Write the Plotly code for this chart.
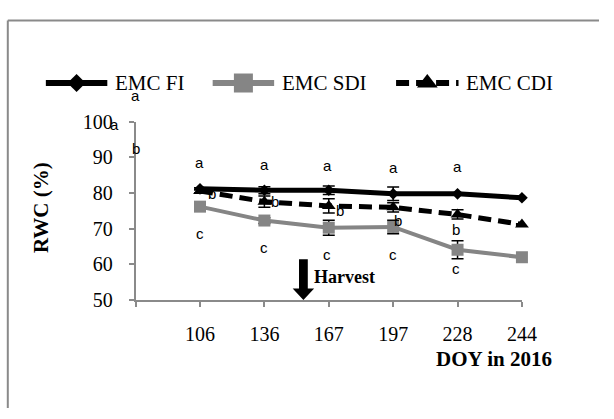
import plotly.graph_objects as go

# Sampling dates (day of year, 2016)
doy_labels = ["106", "136", "167", "197", "228", "244"]

# Relative water content (%) per treatment
rwc_fi = [81.2, 80.8, 80.8, 79.8, 79.8, 78.7]
rwc_sdi = [76.2, 72.3, 70.3, 70.5, 64.1, 62.0]
rwc_cdi = [80.6, 77.6, 76.4, 76.0, 74.0, 71.2]

# Standard errors
err_fi = [0.3, 1.0, 1.2, 1.9, 0.3, 0.2]
err_sdi = [0.3, 0.8, 2.1, 1.9, 2.5, 0.2]
err_cdi = [0.5, 1.6, 2.0, 1.3, 1.3, 0.2]

# Significance letters: (letter, category position, RWC level)
sig_letters = [
    ("a", 0.0, 106.6), ("a", -0.33, 98.4), ("b", 0.0, 91.6),
    ("a", 1.0, 87.8), ("b", 1.18, 79.0), ("c", 1.0, 67.8),
    ("a", 2.0, 87.2), ("b", 2.17, 76.9), ("c", 2.0, 63.8),
    ("a", 2.98, 87.0), ("b", 3.17, 74.2), ("c", 2.98, 62.0),
    ("a", 4.0, 86.4), ("b", 4.08, 71.5), ("c", 4.0, 62.0),
    ("a", 5.0, 86.7), ("b", 4.98, 68.9), ("c", 4.98, 58.0),
]

W, H = 614, 419
GRAY = "#858585"
AXIS = "#8a8a8a"
SERIF = "Liberation Serif, Times New Roman, serif"
SANS = "Liberation Sans, Arial, sans-serif"

# Plot-area placement in page pixels
x_l, x_r = 139, 535
y_t, y_b = 117, 305
X_MIN, X_MAX = 0, len(doy_labels)
Y_MIN, Y_MAX = 50, 100


def to_px(cx, cy):
    """Map (category position, RWC) to page pixels for the overlay axis."""
    px = x_l + (cx - X_MIN) / (X_MAX - X_MIN) * (x_r - x_l)
    py = y_b - (cy - Y_MIN) / (Y_MAX - Y_MIN) * (y_b - y_t)
    return px, py


xpos = list(range(1, len(doy_labels) + 1))

fig = go.Figure()

series = [
    ("EMC FI", rwc_fi, err_fi, "black", "solid", 5, "diamond", 9),
    ("EMC SDI", rwc_sdi, err_sdi, GRAY, "solid", 4, "square", 12),
    ("EMC CDI", rwc_cdi, err_cdi, "black", "13px,7px", 5, "triangle-up", 12),
]

for name, vals, errs, col, dash, lw, sym, ms in series:
    fig.add_trace(go.Scatter(
        x=xpos, y=vals, name=name, mode="lines+markers",
        line=dict(color=col, width=lw, dash=dash),
        marker=dict(symbol=sym, size=ms, color=col),
        error_y=dict(type="data", array=errs, visible=True,
                     color="black", thickness=1.5, width=6),
        showlegend=False, cliponaxis=False,
    ))

# Legend drawn on a full-page pixel-space axis pair
legend_items = [
    # name, line start, line end, colour, dash, width, symbol, size
    ("EMC FI", 47, 110, "black", "solid", 6, "diamond", 14),
    ("EMC SDI", 218, 281, GRAY, "solid", 6, "square", 19),
    ("EMC CDI", 406, 470, "black", "13px,7px", 6, "triangle-up", 18),
]
LEG_Y = 76
for name, x0, x1, col, dash, lw, sym, ms in legend_items:
    fig.add_trace(go.Scatter(
        x=[x0, x1], y=[LEG_Y, LEG_Y], mode="lines",
        line=dict(color=col, width=lw, dash=dash),
        xaxis="x2", yaxis="y2", showlegend=False, hoverinfo="skip",
    ))
    fig.add_trace(go.Scatter(
        x=[(x0 + x1) / 2], y=[LEG_Y], mode="markers",
        marker=dict(symbol=sym, size=ms, color=col),
        xaxis="x2", yaxis="y2", showlegend=False, hoverinfo="skip",
    ))
    fig.add_annotation(
        x=x1 + 6, y=LEG_Y, xref="x2", yref="y2", text=name,
        showarrow=False, xanchor="left", yanchor="middle",
        font=dict(family=SERIF, size=21, color="black"),
    )

# Significance letters (placed in page pixels so ones beyond the axes stay visible);
# yshift lifts the text box so the lowercase glyph sits centred on the point
for letter, lx, ly in sig_letters:
    px, py = to_px(lx, ly)
    fig.add_annotation(
        x=px, y=py, xref="x2", yref="y2", text=letter, showarrow=False,
        xanchor="center", yanchor="middle", yshift=3,
        font=dict(family=SANS, size=15, color="black"),
    )

# Harvest arrow and label
fig.add_shape(
    type="path", xref="x2", yref="y2",
    path="M 306.5 262 L 315.5 262 L 315.5 293 L 322 293 L 311 305 "
         "L 300 293 L 306.5 293 Z",
    fillcolor="black", line=dict(width=0),
)
fig.add_annotation(
    x=320, y=281, xref="x2", yref="y2", text="<b>Harvest</b>",
    showarrow=False, xanchor="left", yanchor="middle",
    font=dict(family=SERIF, size=18, color="black"),
)

# Axis titles
fig.add_annotation(
    x=42, y=207, xref="x2", yref="y2", text="<b>RWC (%)</b>",
    textangle=-90, showarrow=False, xanchor="center", yanchor="middle",
    font=dict(family=SERIF, size=21, color="black"),
)
fig.add_annotation(
    x=568, y=367, xref="x2", yref="y2", text="<b>DOY in 2016</b>",
    showarrow=False, xanchor="right", yanchor="middle",
    font=dict(family=SERIF, size=21, color="black"),
)

# Chart frame: only its top and left edges fall inside the page
fig.add_shape(type="line", xref="x2", yref="y2", x0=8, y0=10, x1=W, y1=10,
              line=dict(color=AXIS, width=2))
fig.add_shape(type="line", xref="x2", yref="y2", x0=8, y0=10, x1=8, y1=H,
              line=dict(color=AXIS, width=2))

fig.update_layout(
    width=W, height=H, autosize=False,
    margin=dict(l=0, r=0, t=0, b=0),
    paper_bgcolor="white", plot_bgcolor="rgba(0,0,0,0)",
    showlegend=False,
    xaxis=dict(
        domain=[x_l / W, x_r / W], range=[X_MIN, X_MAX],
        tickvals=[0] + xpos, ticktext=[""] + doy_labels,
        showgrid=False, zeroline=False,
        showline=True, linecolor=AXIS, linewidth=1.5,
        ticks="outside", ticklen=5, tickcolor=AXIS, tickwidth=1.5,
        ticklabelstandoff=10,
        tickfont=dict(family=SERIF, size=20, color="black"),
    ),
    yaxis=dict(
        domain=[1 - y_b / H, 1 - y_t / H], range=[Y_MIN, Y_MAX],
        dtick=10, tick0=50,
        showgrid=False, zeroline=False,
        showline=True, linecolor=AXIS, linewidth=1.5,
        ticks="outside", ticklen=5, tickcolor=AXIS, tickwidth=1.5,
        ticklabelstandoff=12,
        tickfont=dict(family=SERIF, size=20, color="black"),
    ),
    xaxis2=dict(domain=[0, 1], range=[0, W], visible=False, anchor="y2"),
    yaxis2=dict(domain=[0, 1], range=[H, 0], visible=False, anchor="x2"),
)

fig.write_html("out.html")
